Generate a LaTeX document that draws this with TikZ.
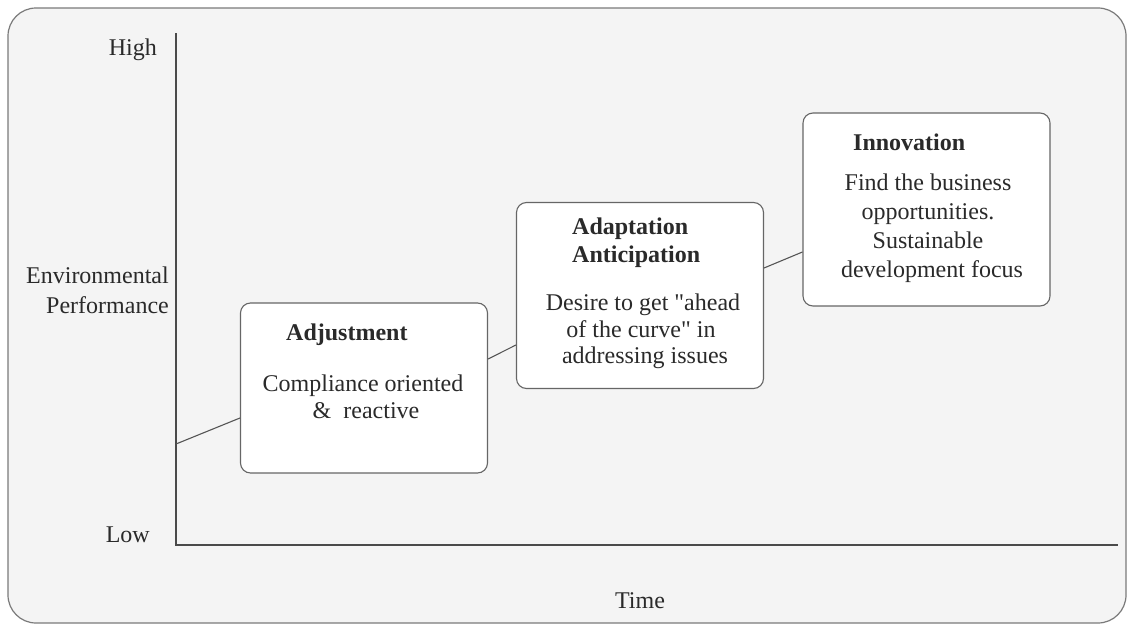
\documentclass[tikz,border=0pt]{standalone}
\usepackage{fontspec}
\setmainfont{Liberation Serif}[Ligatures=TeXOff]
\usetikzlibrary{calc}
\definecolor{framefill}{HTML}{F4F4F4}
\definecolor{frameline}{HTML}{7A7A7A}
\definecolor{axisline}{HTML}{4A4A4A}
\definecolor{boxline}{HTML}{666666}
\definecolor{linkline}{HTML}{555555}
\definecolor{ink}{HTML}{2A2A2A}
\begin{document}
\begin{tikzpicture}[x=1pt,y=-1pt,
  every node/.style={inner sep=0pt, text=ink},
  txt/.style={font=\fontsize{24}{27}\selectfont, anchor=base},
  ttl/.style={font=\fontsize{24}{27}\selectfont\bfseries, anchor=base west},
  lbl/.style={font=\fontsize{24}{27}\selectfont, anchor=base east},
  stage/.style={draw=boxline, fill=white, line width=1.1pt, rounded corners=10pt,
    minimum width=247pt},
  link/.style={draw=linkline, line width=1.1pt},
  axis/.style={draw=axisline, line width=1.3pt}]
\useasboundingbox (0,0) rectangle (1132,629);

% outer panel
\draw[draw=frameline, fill=framefill, line width=1.2pt, rounded corners=28pt]
  (8,8) rectangle (1126,623);

% axes
\coordinate (ytop) at (176,33);
\coordinate (origin) at (176,545);
\coordinate (xend) at (1118,545);
\coordinate (start) at (176,444);
\draw[axis] (ytop) -- (origin) -- (xend);

\node[lbl] (high) at (157,55) {High};
\node[lbl] (env1) at (169,283) {Environmental};
\node[lbl] (env2) at (169,313) {Performance};
\node[lbl] (low) at (150,542) {Low};
\node[txt] (time) at (640,608) {Time};

% stage boxes
\node[stage, minimum height=170pt] (adj) at (364,388) {};
\node[stage, minimum height=186pt] (ada) at (640,295.5) {};
\node[stage, minimum height=193pt] (inn) at (926.5,209.5) {};

% connecting line through the stages
\draw[link] (start) -- ([yshift=-30pt]adj.west);
\draw[link] ([yshift=29pt]adj.east) -- ([yshift=-49.5pt]ada.west);
\draw[link] ([yshift=27.5pt]ada.east) -- ([yshift=-42.5pt]inn.west);

% Adjustment
\node[ttl] (adjT) at (286,340) {Adjustment};
\node[txt] (adjB1) at (363,391) {Compliance oriented};
\node[txt] (adjB2) at (366,418) {\&\ \ reactive};

% Adaptation / Anticipation
\node[ttl] (adaT1) at (572,234) {Adaptation};
\node[ttl] (adaT2) at (572,262) {Anticipation};
\node[txt] (adaB1) at (643,310) {Desire to get "ahead};
\node[txt] (adaB2) at (641,337) {of the curve" in};
\node[txt] (adaB3) at (645,363) {addressing issues};

% Innovation
\node[ttl] (innT) at (853,150) {Innovation};
\node[txt] (innB1) at (928,190) {Find the business};
\node[txt] (innB2) at (928,219) {opportunities.};
\node[txt] (innB3) at (928,248) {Sustainable};
\node[txt] (innB4) at (932,277) {development focus};
\end{tikzpicture}
\end{document}
